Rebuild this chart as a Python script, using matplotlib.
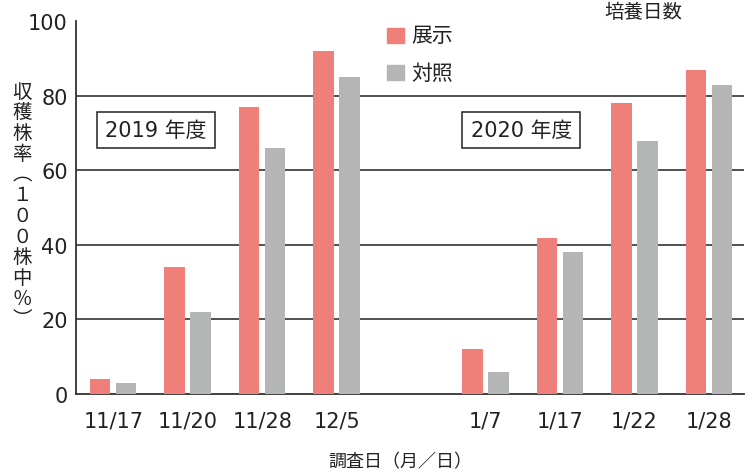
import numpy as np
import matplotlib
matplotlib.use("Agg")
import matplotlib.pyplot as plt

plt.rcParams['font.family'] = ['DejaVu Sans', 'Noto Sans CJK JP']

# data
dates = ['11/17', '11/20', '11/28', '12/5', '1/7', '1/17', '1/22', '1/28']
slots = [0, 1, 2, 3, 5, 6, 7, 8]   # gap between the two seasons
tenji = [4, 34, 77, 92, 12, 42, 78, 87]     # 展示
taisho = [3, 22, 66, 85, 6, 38, 68, 83]     # 対照

red = '#EE8079'
gray = '#B4B5B5'
ink = '#222222'
cjk = ['Noto Sans CJK JP', 'DejaVu Sans']

fig = plt.figure(figsize=(7.53, 4.77), dpi=100)
ax = fig.add_axes([0.1009, 0.1719, 0.8871, 0.781])

x = np.array(slots, dtype=float)
w = 0.275
ax.bar(x - 0.175, tenji, w, color=red, zorder=3)
ax.bar(x + 0.175, taisho, w, color=gray, zorder=3)

ax.set_xlim(-0.5, 8.47)
ax.set_ylim(0, 100)
for yy in [20, 40, 60, 80]:
    ax.axhline(yy, color=ink, lw=1.1, zorder=1)

for s in ['top', 'right']:
    ax.spines[s].set_visible(False)
for s in ['left', 'bottom']:
    ax.spines[s].set_color('#333333')
    ax.spines[s].set_linewidth(1.3)

ax.set_yticks([0, 20, 40, 60, 80, 100])
ax.set_xticks(x)
ax.set_xticklabels(dates)
ax.tick_params(length=0, labelsize=15, colors=ink)
ax.tick_params(axis='y', pad=6)
ax.tick_params(axis='x', pad=12)

# vertical y label
ylab = ['収', '穫', '株', '率', '︵', '１', '０', '０', '株', '中', '％', '︶']
fig.text(22 / 753, 1 - 206 / 477, '\n'.join(ylab), ha='center', va='center',
         fontsize=14, linespacing=0.98, family=cjk, color=ink)

fig.text(400 / 753, 1 - 462 / 477, '調査日（月／日）', ha='center', va='center',
         fontsize=13, family=cjk, color=ink)

# season boxes
box = dict(boxstyle='square,pad=0.4', fc='white', ec=ink, lw=1.1)
ax.text(0.57, 70.9, '2019 年度', ha='center', va='center', fontsize=15,
        bbox=box, zorder=4, color=ink)
ax.text(5.48, 70.9, '2020 年度', ha='center', va='center', fontsize=15,
        bbox=box, zorder=4, color=ink)

# legend
ax.add_patch(plt.Rectangle((3.67, 94.2), 0.24, 4, color=red, clip_on=False))
ax.add_patch(plt.Rectangle((3.67, 84.3), 0.24, 4, color=gray, clip_on=False))
ax.text(4.0, 96.3, '展示', va='center', fontsize=15, color=ink)
ax.text(4.0, 86.3, '対照', va='center', fontsize=15, color=ink)

fig.text(643 / 753, 1 - 13 / 477, '培養日数', ha='center', va='center',
         fontsize=14, color=ink)

fig.savefig('out.png', dpi=100)
